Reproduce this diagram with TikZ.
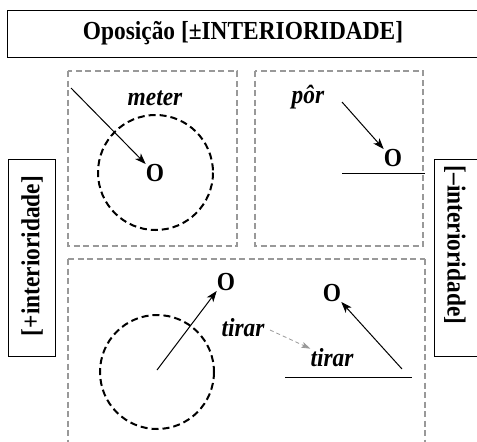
\documentclass[tikz,border=0pt]{standalone}
\usepackage{fontspec}
\setmainfont{Liberation Serif}[FakeStretch=0.9]
\usetikzlibrary{arrows.meta}
\begin{document}
\begin{tikzpicture}[x=1pt,y=-1pt,
  lbl/.style={font=\fontsize{26}{29}\selectfont\bfseries, inner sep=0pt},
  ilbl/.style={font=\fontsize{26}{29}\selectfont\bfseries\itshape, inner sep=0pt},
  frame/.style={draw=black, line width=1pt},
  panel/.style={draw=black!40, line width=1.1pt, dash pattern=on 6pt off 3.5pt},
  zone/.style={draw=black, line width=2pt, dash pattern=on 7pt off 4pt},
  motion/.style={line width=1pt, -{Stealth[length=11pt,width=8pt,inset=3pt]}},
  grayarrow/.style={draw=black!40, line width=0.8pt, dash pattern=on 4pt off 3pt, -{Stealth[length=9pt,width=6pt,inset=2pt,fill=black!40]}}
]
\useasboundingbox (0,0) rectangle (477,442);
% title
\draw[frame] (7,10) rectangle (485,57);
\node[lbl] (title) at (243,33) {Oposição [±INTERIORIDADE]};
% side labels
\draw[frame] (8,159) rectangle (55,356);
\node[lbl, rotate=90] (plus) at (32,256) {[+interioridade]};
\draw[frame] (434,159) rectangle (485,356);
\node[lbl, rotate=-90] (minus) at (455,245) {[--interioridade]};
% panels
\draw[panel] (68,71) rectangle (237,246);
\draw[panel] (255,71) rectangle (423,246);
\draw[panel] (68,259) -- (425,259);
\draw[panel] (68,259) -- (68,450);
\draw[panel] (425,259) -- (425,450);
% panel meter
\node[ilbl] (meter) at (155,98) {meter};
\draw[zone] (155.5,172.5) circle (57.5);
\node[lbl] (oA) at (155,173) {O};
\coordinate (sA) at (71,88);
\draw[motion] (sA) -- (oA.north west);
% panel por
\node[ilbl] (por) at (308,97) {pôr};
\coordinate (sB) at (342,102);
\node[lbl] (oB) at (393,158) {O};
\draw[motion] (sB) -- (oB.north west);
\coordinate (lB1) at (342,173);
\coordinate (lB2) at (425,173);
\draw[line width=1pt] (lB1) -- (lB2);
% panel tirar
\draw[zone] (157,372) circle (57);
\coordinate (cC) at (157,370);
\node[lbl] (oC) at (226,282) {O};
\draw[motion] (cC) -- (oC.south west);
\node[ilbl] (t1) at (243,328) {tirar};
\node[ilbl] (t2) at (332,358) {tirar};
\coordinate (g1) at (270,330);
\draw[grayarrow] (g1) -- (t2.north west);
\coordinate (lC1) at (285,377);
\coordinate (lC2) at (412,377);
\draw[line width=1pt] (lC1) -- (lC2);
\node[lbl] (oD) at (332,293) {O};
\coordinate (sD) at (402,369);
\draw[motion] (sD) -- (oD.south east);
\end{tikzpicture}
\end{document}
